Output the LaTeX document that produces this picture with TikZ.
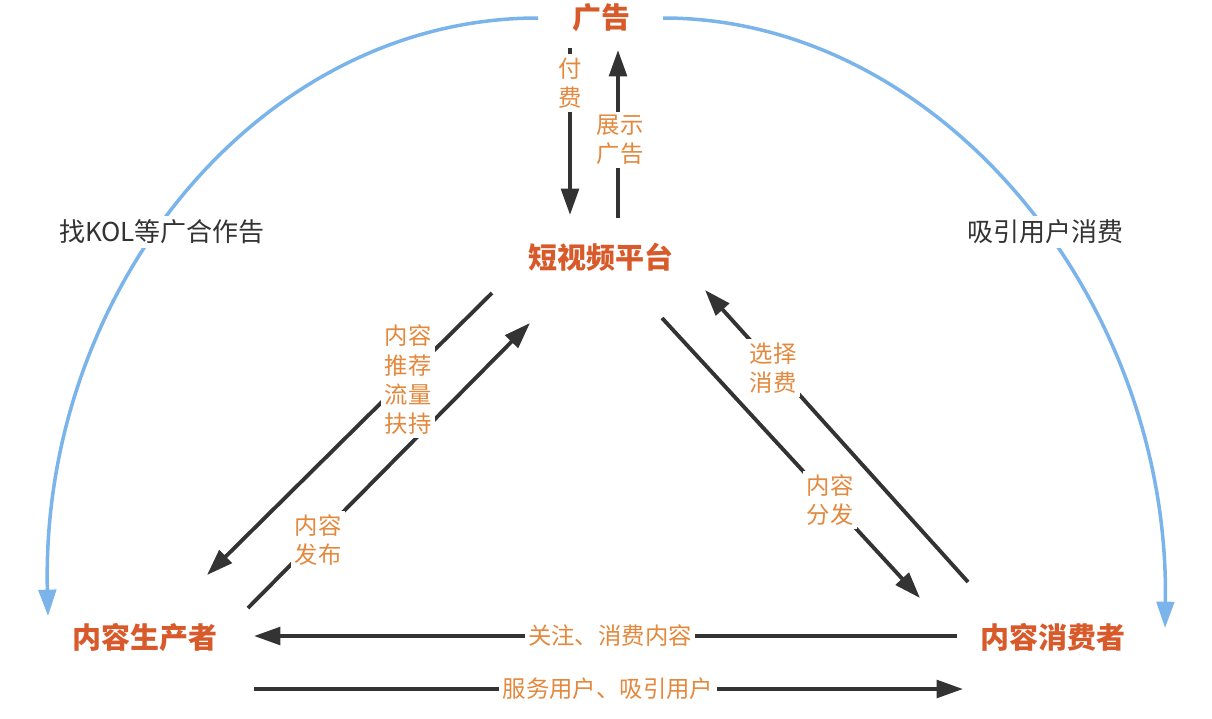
\documentclass[tikz,border=0pt]{standalone}
\usepackage{fontspec}
\setmainfont{Noto Sans CJK SC}
\usetikzlibrary{arrows.meta}
\definecolor{titleorange}{HTML}{D85A2A}
\definecolor{labelorange}{HTML}{E3883C}
\definecolor{arcblue}{HTML}{7BB4EA}
\definecolor{arrowgray}{HTML}{333333}
\tikzset{
    party/.style={text=titleorange,font=\bfseries\fontsize{16.5}{20}\selectfont,inner sep=2pt},
    flow/.style={line width=2.2pt,draw=arrowgray,-{Triangle[length=15pt,width=10pt]}},
    arcflow/.style={line width=2pt,draw=arcblue,-{Triangle[length=15pt,width=10pt]}},
    flowlabel/.style={text=labelorange,fill=white,align=center,inner sep=2pt,
        font=\fontsize{13.3}{16.7}\selectfont},
    sidelabel/.style={text=arrowgray,fill=white,inner sep=2pt,
        font=\fontsize{14.8}{17}\selectfont},
}

\begin{document}
\begin{tikzpicture}[x=0.02cm,y=-0.02cm]
        \useasboundingbox (0,0) rectangle (1212,718);
        % the four parties
        \node[party] (ad) at (601,18) {广告};
        \node[party] (plat) at (601,257) {短视频平台};
        \node[party] (prod) at (145,637) {内容生产者};
        \node[party] (cons) at (1053,637) {内容消费者};
        % free ends of the connectors
        \coordinate (adL) at (538,18);
        \coordinate (adR) at (663,18);
        \coordinate (prodTip) at (48,616);
        \coordinate (consTip) at (1165,628);
        \coordinate (payTop) at (570,48);
        \coordinate (payEnd) at (570,215);
        \coordinate (showTop) at (618,50);
        \coordinate (showEnd) at (618,218);
        \coordinate (recTop) at (492,293);
        \coordinate (recEnd) at (207,575);
        \coordinate (pubBot) at (248,608);
        \coordinate (pubEnd) at (530,323);
        \coordinate (distTop) at (662,318);
        \coordinate (distEnd) at (920,598);
        \coordinate (selBot) at (968,582);
        \coordinate (selEnd) at (705,290);
        \coordinate (folR) at (957,636);
        \coordinate (folL) at (254,636);
        \coordinate (srvL) at (254,689);
        \coordinate (srvR) at (963,689);

        \draw[arcflow] (adL) .. controls (260,18) and (40,290) .. (prodTip);
        \draw[arcflow] (adR) .. controls (940,18) and (1170,300) .. (consTip);
        \draw[flow] (payTop) -- (payEnd);
        \draw[flow] (showEnd) -- (showTop);
        \draw[flow] (recTop) -- (recEnd);
        \draw[flow] (pubBot) -- (pubEnd);
        \draw[flow] (distTop) -- (distEnd);
        \draw[flow] (selBot) -- (selEnd);
        \draw[flow] (folR) -- (folL);
        \draw[flow] (srvL) -- (srvR);

        % labels on top of the lines
        \node[sidelabel] (kol) at (162,232) {找KOL等广合作告};
        \node[sidelabel] (attract) at (1045,232) {吸引用户消费};
        \node[flowlabel] (pay) at (570,83) {付\\费};
        \node[flowlabel] (show) at (620,140) {展示\\广告};
        \node[flowlabel] (rec) at (408,380) {内容\\推荐\\流量\\扶持};
        \node[flowlabel] (pub) at (318,540) {内容\\发布};
        \node[flowlabel] (dist) at (830,500) {内容\\分发};
        \node[flowlabel] (sel) at (773,368) {选择\\消费};
        \node[flowlabel] (fol) at (610,636) {关注、消费内容};
        \node[flowlabel] (srv) at (608,689) {服务用户、吸引用户};
    \end{tikzpicture}
\end{document}
